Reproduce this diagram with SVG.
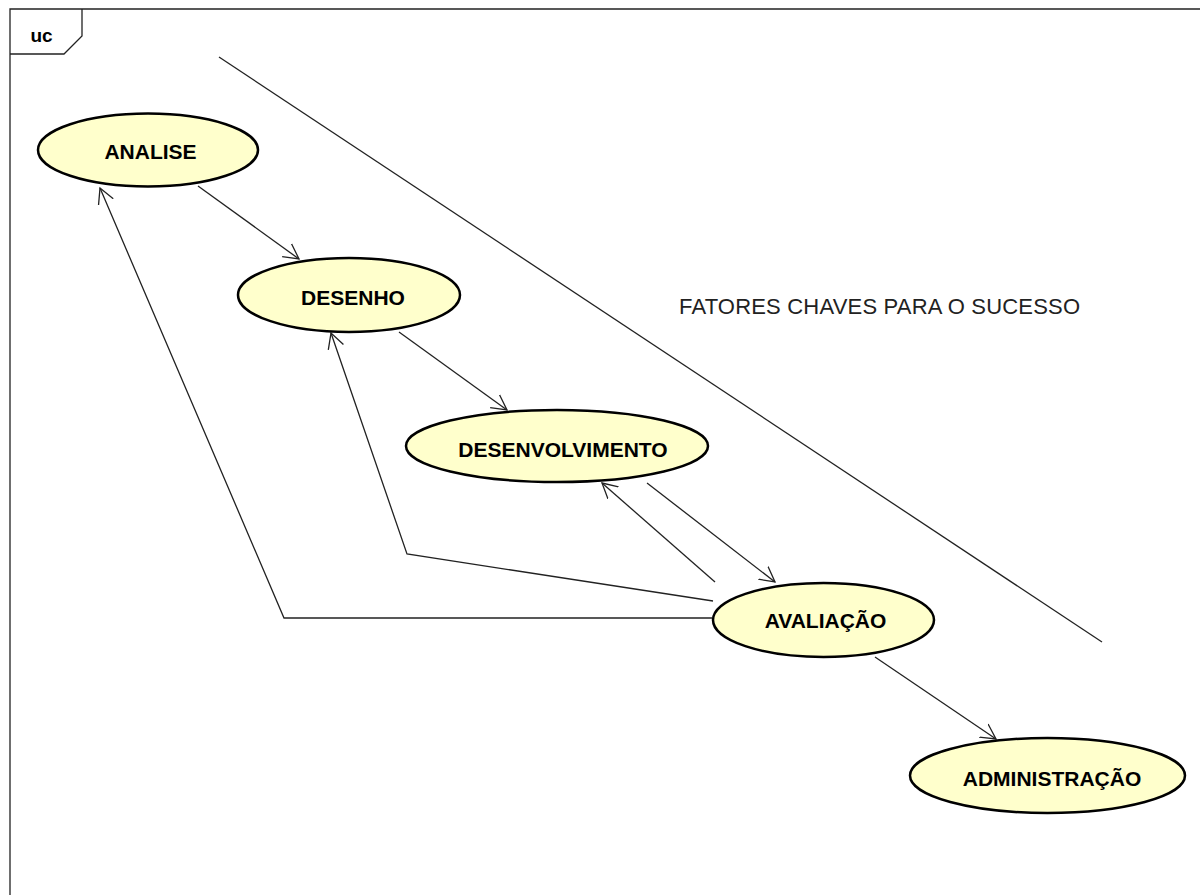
<svg xmlns="http://www.w3.org/2000/svg" width="1200" height="895" viewBox="0 0 1200 895">
<style>
.uc{fill:#FFFFCC;stroke:#000;stroke-width:2.5}
.lbl{font-family:"Liberation Sans",Arial,sans-serif;font-weight:bold;font-size:21px;fill:#000;text-anchor:middle}
.c{fill:none;stroke:#222;stroke-width:1.3}
</style>
<defs>
<marker id="arr" markerUnits="userSpaceOnUse" markerWidth="20" markerHeight="20" refX="15" refY="8" orient="auto" viewBox="0 0 20 16">
<path d="M0,0 L15,8 L0,16" fill="none" stroke="#222" stroke-width="1.3"/>
</marker>
</defs>
<rect width="1200" height="895" fill="#fff"/>
<g id="frame">
<path d="M10,895 L10,9 L1200,9" fill="none" stroke="#222" stroke-width="1.3"/>
<path d="M10,54 L64,54 L82,36 L82,9" fill="none" stroke="#222" stroke-width="1.3"/>
<text x="41.5" y="42" style="font-family:'Liberation Sans',Arial,sans-serif;font-weight:bold;font-size:19px" text-anchor="middle">uc</text>
</g>
<g id="boundary">
<line x1="219" y1="57" x2="1102" y2="642" stroke="#222" stroke-width="1.3"/>
<text x="679" y="314" textLength="401" style="font-family:'Liberation Sans',Arial,sans-serif;font-size:22px;fill:#222">FATORES CHAVES PARA O SUCESSO</text>
</g>
<g id="connectors">
<line class="c" x1="198" y1="186" x2="299" y2="259" marker-end="url(#arr)"/>
<line class="c" x1="399" y1="332" x2="507" y2="410" marker-end="url(#arr)"/>
<line class="c" x1="647" y1="483" x2="775" y2="582" marker-end="url(#arr)"/>
<line class="c" x1="715" y1="582" x2="602" y2="483" marker-end="url(#arr)"/>
<polyline class="c" points="713,601 407,554 331,333" marker-end="url(#arr)"/>
<polyline class="c" points="712,618 284,618 100,188" marker-end="url(#arr)"/>
<line class="c" x1="875" y1="657" x2="996" y2="739" marker-end="url(#arr)"/>
</g>
<g id="analise"><ellipse class="uc" cx="148" cy="150" rx="110" ry="36.5"/><text class="lbl" x="150.5" y="159">ANALISE</text></g>
<g id="desenho"><ellipse class="uc" cx="349" cy="295" rx="111" ry="37"/><text class="lbl" x="353" y="305">DESENHO</text></g>
<g id="desenvolvimento"><ellipse class="uc" cx="557" cy="446" rx="151" ry="36"/><text class="lbl" x="563" y="457">DESENVOLVIMENTO</text></g>
<g id="avaliacao"><ellipse class="uc" cx="823.5" cy="620" rx="110.5" ry="37"/><text class="lbl" x="825.5" y="628">AVALIAÇÃO</text></g>
<g id="administracao"><ellipse class="uc" cx="1047.5" cy="775.5" rx="137.5" ry="37.5"/><text class="lbl" x="1052" y="786">ADMINISTRAÇÃO</text></g>
</svg>
